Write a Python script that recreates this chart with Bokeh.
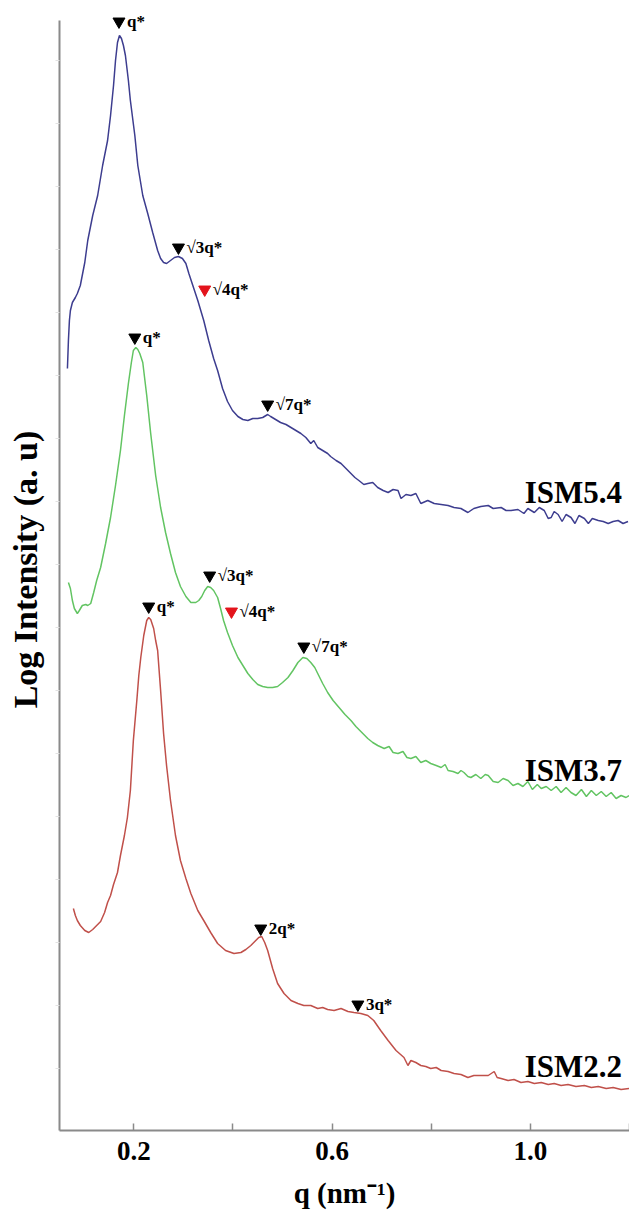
from bokeh.plotting import figure
from bokeh.models import ColumnDataSource, FixedTicker, Range1d, PrintfTickFormatter
from bokeh.core.properties import value
from bokeh.embed import file_html
from bokeh.resources import INLINE

# ---------------- data (q in nm^-1, log intensity in arbitrary, offset units) ----------------
q_ism54 = [0.066, 0.068, 0.070, 0.072, 0.076, 0.082, 0.086, 0.092, 0.101, 0.107, 0.117, 0.127, 0.137,
           0.147, 0.153, 0.159, 0.163, 0.167, 0.171, 0.175, 0.179, 0.183, 0.189, 0.193, 0.202, 0.208,
           0.218, 0.228, 0.238, 0.248, 0.254, 0.260, 0.266, 0.274, 0.282, 0.290, 0.298, 0.305, 0.311,
           0.319, 0.329, 0.341, 0.351, 0.361, 0.369, 0.379, 0.389, 0.399, 0.410, 0.420, 0.430, 0.440,
           0.450, 0.460, 0.470, 0.476, 0.486, 0.496, 0.507, 0.517, 0.527, 0.537, 0.547, 0.557, 0.563,
           0.571, 0.581, 0.591, 0.597, 0.608, 0.618, 0.628, 0.638, 0.646, 0.654, 0.664, 0.672, 0.682,
           0.692, 0.703, 0.713, 0.723, 0.733, 0.739, 0.749, 0.759, 0.769, 0.779, 0.793, 0.806, 0.820,
           0.834, 0.846, 0.860, 0.874, 0.886, 0.900, 0.915, 0.925, 0.941, 0.951, 0.961, 0.975, 0.987,
           0.995, 1.008, 1.018, 1.028, 1.036, 1.042, 1.048, 1.056, 1.064, 1.072, 1.082, 1.090, 1.098,
           1.109, 1.117, 1.125, 1.137, 1.147, 1.157, 1.167, 1.177, 1.187, 1.197]
i_ism54 = [7.62, 7.90, 8.10, 8.20, 8.28, 8.33, 8.37, 8.45, 8.68, 8.90, 9.15, 9.35, 9.65,
           9.90, 10.15, 10.45, 10.70, 10.88, 10.95, 10.92, 10.85, 10.75, 10.50, 10.30, 9.95, 9.65,
           9.35, 9.17, 8.98, 8.80, 8.72, 8.68, 8.67, 8.70, 8.73, 8.74, 8.72, 8.67, 8.57,
           8.45, 8.30, 8.10, 7.90, 7.72, 7.60, 7.42, 7.29, 7.20, 7.14, 7.11, 7.10, 7.12,
           7.12, 7.13, 7.16, 7.14, 7.11, 7.08, 7.06, 7.03, 7.00, 6.97, 6.93, 6.87, 6.90,
           6.83, 6.80, 6.77, 6.74, 6.70, 6.67, 6.62, 6.57, 6.53, 6.50, 6.46, 6.47, 6.48,
           6.43, 6.40, 6.38, 6.41, 6.40, 6.32, 6.36, 6.35, 6.37, 6.27, 6.30, 6.27, 6.26,
           6.25, 6.23, 6.22, 6.18, 6.22, 6.24, 6.25, 6.22, 6.23, 6.20, 6.20, 6.21, 6.17,
           6.22, 6.18, 6.23, 6.20, 6.12, 6.13, 6.19, 6.16, 6.09, 6.16, 6.13, 6.07, 6.15,
           6.12, 6.07, 6.12, 6.10, 6.09, 6.07, 6.09, 6.10, 6.07, 6.09]

q_ism37 = [0.068, 0.072, 0.076, 0.080, 0.086, 0.090, 0.096, 0.103, 0.107, 0.113, 0.119, 0.125, 0.133,
           0.143, 0.153, 0.163, 0.173, 0.181, 0.189, 0.195, 0.199, 0.204, 0.208, 0.212, 0.218, 0.226,
           0.234, 0.244, 0.254, 0.264, 0.274, 0.284, 0.294, 0.305, 0.315, 0.325, 0.331, 0.337, 0.343,
           0.349, 0.355, 0.361, 0.369, 0.375, 0.381, 0.389, 0.399, 0.410, 0.420, 0.430, 0.440, 0.450,
           0.460, 0.470, 0.480, 0.490, 0.500, 0.511, 0.521, 0.531, 0.541, 0.549, 0.557, 0.565, 0.573,
           0.581, 0.591, 0.602, 0.614, 0.626, 0.638, 0.648, 0.658, 0.672, 0.682, 0.692, 0.705, 0.715,
           0.723, 0.733, 0.743, 0.751, 0.759, 0.769, 0.779, 0.789, 0.799, 0.810, 0.820, 0.828, 0.834,
           0.844, 0.854, 0.860, 0.866, 0.874, 0.880, 0.890, 0.900, 0.909, 0.915, 0.925, 0.935, 0.945,
           0.955, 0.965, 0.975, 0.985, 0.995, 1.004, 1.014, 1.022, 1.032, 1.042, 1.052, 1.062, 1.072,
           1.082, 1.092, 1.103, 1.113, 1.123, 1.133, 1.143, 1.153, 1.163, 1.173, 1.183, 1.193, 1.199]
i_ism37 = [5.48, 5.42, 5.30, 5.22, 5.17, 5.20, 5.25, 5.26, 5.25, 5.27, 5.38, 5.50, 5.63,
           5.87, 6.13, 6.45, 6.80, 7.15, 7.47, 7.68, 7.80, 7.83, 7.81, 7.77, 7.68, 7.35,
           6.97, 6.55, 6.23, 5.98, 5.77, 5.58, 5.44, 5.34, 5.28, 5.28, 5.30, 5.34, 5.40,
           5.44, 5.43, 5.40, 5.33, 5.22, 5.10, 4.98, 4.85, 4.73, 4.65, 4.57, 4.51, 4.46,
           4.44, 4.43, 4.43, 4.44, 4.48, 4.53, 4.60, 4.68, 4.73, 4.72, 4.68, 4.63, 4.55,
           4.47, 4.38, 4.30, 4.23, 4.16, 4.10, 4.04, 3.99, 3.92, 3.88, 3.85, 3.82, 3.84,
           3.78, 3.77, 3.79, 3.73, 3.72, 3.74, 3.68, 3.70, 3.67, 3.65, 3.63, 3.66, 3.60,
           3.59, 3.57, 3.60, 3.58, 3.54, 3.53, 3.56, 3.52, 3.56, 3.55, 3.49, 3.48, 3.52,
           3.50, 3.45, 3.47, 3.44, 3.49, 3.41, 3.46, 3.42, 3.44, 3.40, 3.44, 3.38, 3.43,
           3.38, 3.35, 3.41, 3.34, 3.40, 3.35, 3.39, 3.34, 3.38, 3.32, 3.35, 3.33, 3.35]

q_ism22 = [0.078, 0.082, 0.086, 0.092, 0.101, 0.109, 0.117, 0.125, 0.133, 0.141, 0.147, 0.153, 0.159,
           0.167, 0.173, 0.181, 0.187, 0.193, 0.199, 0.206, 0.210, 0.214, 0.220, 0.226, 0.230, 0.234,
           0.240, 0.244, 0.248, 0.254, 0.260, 0.266, 0.274, 0.284, 0.294, 0.305, 0.315, 0.329, 0.341,
           0.355, 0.369, 0.385, 0.402, 0.416, 0.426, 0.436, 0.446, 0.452, 0.458, 0.464, 0.470, 0.480,
           0.490, 0.503, 0.517, 0.531, 0.543, 0.557, 0.571, 0.581, 0.591, 0.604, 0.618, 0.632, 0.644,
           0.658, 0.672, 0.684, 0.698, 0.713, 0.729, 0.745, 0.753, 0.759, 0.769, 0.779, 0.789, 0.799,
           0.810, 0.820, 0.834, 0.846, 0.860, 0.874, 0.886, 0.900, 0.915, 0.927, 0.933, 0.941, 0.955,
           0.967, 0.981, 0.995, 1.008, 1.022, 1.036, 1.048, 1.062, 1.076, 1.092, 1.109, 1.123, 1.137,
           1.153, 1.167, 1.183, 1.199]
i_ism22 = [2.22, 2.15, 2.10, 2.05, 2.00, 1.98, 2.01, 2.05, 2.09, 2.18, 2.28, 2.35, 2.46,
           2.58, 2.75, 2.95, 3.13, 3.40, 3.90, 4.30, 4.55, 4.73, 4.95, 5.10, 5.13, 5.11,
           5.02, 4.90, 4.80, 4.40, 3.97, 3.65, 3.30, 2.95, 2.70, 2.52, 2.37, 2.20, 2.10,
           1.98, 1.87, 1.80, 1.77, 1.78, 1.81, 1.85, 1.90, 1.93, 1.94, 1.88, 1.80, 1.62,
           1.47, 1.37, 1.30, 1.27, 1.25, 1.25, 1.22, 1.23, 1.21, 1.20, 1.22, 1.19, 1.18,
           1.17, 1.15, 1.10, 1.00, 0.90, 0.80, 0.73, 0.65, 0.70, 0.68, 0.65, 0.64, 0.62,
           0.63, 0.60, 0.59, 0.57, 0.56, 0.53, 0.55, 0.55, 0.55, 0.59, 0.53, 0.52, 0.50,
           0.51, 0.48, 0.49, 0.47, 0.48, 0.46, 0.47, 0.45, 0.46, 0.44, 0.45, 0.43, 0.44,
           0.42, 0.43, 0.41, 0.42]

# peak markers (position of the marker triangle) and their labels
mark_q = [0.170, 0.290, 0.343, 0.470,
          0.202, 0.353, 0.397, 0.543,
          0.230, 0.456, 0.652]
mark_i = [11.09, 8.83, 8.41, 7.26,
          7.93, 5.55, 5.19, 4.84,
          5.24, 2.02, 1.26]
mark_text = ["q*", "\u221a3q*", "\u221a4q*", "\u221a7q*",
             "q*", "\u221a3q*", "\u221a4q*", "\u221a7q*",
             "q*", "2q*", "3q*"]
mark_kind = ["black", "black", "red", "black",
             "black", "black", "red", "black",
             "black", "black", "black"]

# sample names and their anchor (right end) positions
sample_names = ["ISM5.4", "ISM3.7", "ISM2.2"]
sample_q = [1.185, 1.185, 1.185]
sample_i = [6.38, 3.60, 0.64]

x_ticks = [0.2, 0.6, 1.0]          # labelled ticks
x_minor_ticks = [0.4, 0.8, 1.2]    # unlabelled ticks
y_minor_ticks = [0.62, 1.25, 1.88, 2.51, 3.14, 3.77, 4.40, 5.03, 5.66, 6.29, 6.92, 7.55,
                 8.18, 8.81, 9.44, 10.07, 10.70]

# ---------------- styling ----------------
SERIF = "Liberation Serif"
BLUE = "#3d3d8f"
GREEN = "#62c462"
RED = "#c0504a"
AXIS = "#8a8a8a"

p = figure(width=629, height=1213,
           x_range=Range1d(0.05, 1.2), y_range=Range1d(0, 11.22),
           output_backend="svg", toolbar_location=None,
           min_border_left=59, min_border_right=0, min_border_top=8, min_border_bottom=83)
p.outline_line_color = None
p.grid.visible = False
p.background_fill_color = "white"
p.border_fill_color = "white"

p.line(q_ism54, i_ism54, line_color=BLUE, line_width=1.5)
p.line(q_ism37, i_ism37, line_color=GREEN, line_width=1.5)
p.line(q_ism22, i_ism22, line_color=RED, line_width=1.5)

colors = ["#000000" if k == "black" else "#e3141c" for k in mark_kind]
msrc = ColumnDataSource(dict(x=mark_q, y=mark_i, t=mark_text, c=colors))
p.scatter("x", "y", source=msrc, marker="inverted_triangle", size=12,
          fill_color="c", line_color="c")
p.text("x", "y", text="t", source=msrc, x_offset=8, text_align="left",
       text_baseline="middle", text_font=value(SERIF), text_font_style="bold",
       text_font_size="17px", text_color="black")

ssrc = ColumnDataSource(dict(x=sample_q, y=sample_i, t=sample_names))
p.text("x", "y", text="t", source=ssrc, text_align="right", text_baseline="middle",
       text_font=value(SERIF), text_font_style="bold", text_font_size="31px",
       text_color="black")

# x axis
xa = p.xaxis[0]
xa.ticker = FixedTicker(ticks=x_ticks, minor_ticks=x_minor_ticks)
xa.formatter = PrintfTickFormatter(format="%.1f")
xa.major_tick_in = 7
xa.major_tick_out = 0
xa.minor_tick_in = 7
xa.minor_tick_out = 0
xa.axis_line_color = AXIS
xa.axis_line_width = 2
xa.major_tick_line_color = AXIS
xa.major_tick_line_width = 1.5
xa.minor_tick_line_color = AXIS
xa.minor_tick_line_width = 1.5
xa.major_label_text_font = SERIF
xa.major_label_text_font_style = "bold"
xa.major_label_text_font_size = "27px"
xa.major_label_text_color = "black"
xa.major_label_standoff = 11
xa.axis_label = "q (nm\u207b\u00b9)"
xa.axis_label_text_font = SERIF
xa.axis_label_text_font_style = "bold"
xa.axis_label_text_font_size = "29px"
xa.axis_label_text_color = "black"
xa.axis_label_standoff = 14

# y axis (no labelled ticks, only faint marks); the axis line stops at the top of the data area
ya = p.yaxis[0]
ya.bounds = (0, 11.1)
ya.ticker = FixedTicker(ticks=[], minor_ticks=y_minor_ticks)
ya.major_tick_in = 0
ya.major_tick_out = 4
ya.minor_tick_in = 0
ya.minor_tick_out = 4
ya.minor_tick_line_color = "#e2e2e2"
ya.major_tick_line_color = None
ya.axis_line_color = AXIS
ya.axis_line_width = 2
ya.axis_label = "Log Intensity (a. u)"
ya.axis_label_text_font = SERIF
ya.axis_label_text_font_style = "bold"
ya.axis_label_text_font_size = "34px"
ya.axis_label_text_color = "black"
ya.axis_label_standoff = 12

open("out.html", "w").write(file_html(p, INLINE))
